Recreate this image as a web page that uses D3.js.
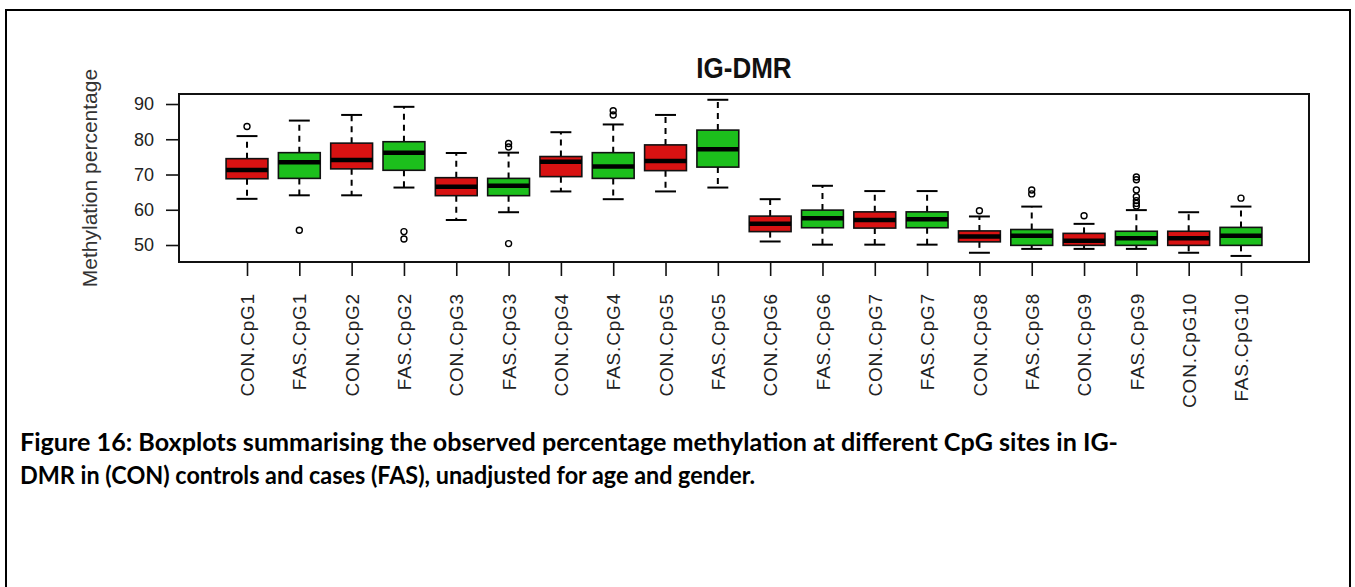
<!DOCTYPE html>
<html>
<head>
<meta charset="utf-8">
<script src="https://cdn.jsdelivr.net/npm/d3@7/dist/d3.min.js"></script>
<style>
  html, body { margin: 0; padding: 0; background: #fff; }
  svg { display: block; }
</style>
</head>
<body>
<script>
// Per-site summary statistics (methylation %), CON = controls, FAS = cases
const groups = [
  "CON.CpG1","FAS.CpG1","CON.CpG2","FAS.CpG2","CON.CpG3","FAS.CpG3","CON.CpG4","FAS.CpG4",
  "CON.CpG5","FAS.CpG5","CON.CpG6","FAS.CpG6","CON.CpG7","FAS.CpG7","CON.CpG8","FAS.CpG8",
  "CON.CpG9","FAS.CpG9","CON.CpG10","FAS.CpG10"
];
const whiskerLow  = [63.1,64.1,64.1,66.3,57.1,59.3,65.2,63.0,65.2,66.3,51.0,50.1,50.1,50.1,47.8,48.9,48.9,48.9,47.8,46.9];
const quartile1   = [68.8,68.9,71.6,71.2,64.0,64.0,69.4,68.9,71.1,72.1,53.8,54.9,54.8,54.9,50.9,49.9,49.9,49.9,49.9,49.9];
const medians     = [71.3,73.5,74.1,76.2,66.5,66.8,73.6,72.3,73.8,77.2,56.0,57.6,57.1,57.3,52.4,52.6,51.2,51.9,51.9,52.6];
const quartile3   = [74.5,76.2,78.9,79.3,69.1,68.9,75.1,76.2,78.4,82.6,58.2,59.9,59.4,59.4,54.0,54.4,53.3,53.9,53.9,55.0];
const whiskerHigh = [80.9,85.3,86.9,89.2,76.1,76.2,82.0,84.2,86.9,91.2,63.0,66.8,65.3,65.3,58.1,60.9,56.0,59.9,59.3,60.9];
const outliers = [
  [83.6], [54.2], [], [53.8,51.7], [], [78.8,77.8,50.4], [], [88.1,86.9], [], [],
  [], [], [], [], [59.7], [65.6,64.5], [58.3], [69.3,68.5,65.6,63.7,62.6,61.8,61.1], [], [63.3]
];
const yTicks = [50, 60, 70, 80, 90];
const titleText = "IG-DMR";
const yLabel = "Methylation percentage";
const captionLines = [
  "Figure 16: Boxplots summarising the observed percentage methylation at different CpG sites in IG-",
  "DMR in (CON) controls and cases (FAS), unadjusted for age and gender."
];
const captionWidths = [1098, 735];

const W = 1355, H = 587;
const plot = { left: 179, right: 1309, top: 94, bottom: 262 };
const RED = "#d81212", GREEN = "#1cbf1c";
const SANS = "Liberation Sans, Arial, sans-serif";

const svg = d3.select("body").append("svg").attr("width", W).attr("height", H);

// outer figure frame (open at the bottom edge of the page)
svg.append("path")
  .attr("d", `M6,${H} V10 H1350 V${H}`)
  .attr("fill", "none").attr("stroke", "#000").attr("stroke-width", 2);

const n = groups.length;
const x = d3.scaleLinear().domain([0.5 - 0.04 * n, n + 0.5 + 0.04 * n]).range([plot.left, plot.right]);
const y = d3.scaleLinear().domain([45.18, 92.84]).range([plot.bottom, plot.top]);
const unit = x(2) - x(1);
const boxW = 0.8 * unit;
const capW = 0.5 * boxW;

const data = groups.map((g, i) => ({
  name: g, pos: i + 1, lo: whiskerLow[i], q1: quartile1[i], med: medians[i],
  q3: quartile3[i], hi: whiskerHigh[i], out: outliers[i],
  fill: g.startsWith("CON") ? RED : GREEN
}));

const gBox = svg.append("g");
const bx = gBox.selectAll("g.box").data(data).join("g").attr("class", "box")
  .attr("transform", d => `translate(${x(d.pos)},0)`);

// dashed whiskers
bx.append("line").attr("x1", 0).attr("x2", 0)
  .attr("y1", d => y(d.q3)).attr("y2", d => y(d.hi))
  .attr("stroke", "#000").attr("stroke-width", 2).attr("stroke-dasharray", "6,5");
bx.append("line").attr("x1", 0).attr("x2", 0)
  .attr("y1", d => y(d.q1)).attr("y2", d => y(d.lo))
  .attr("stroke", "#000").attr("stroke-width", 2).attr("stroke-dasharray", "6,5");
// staples
bx.append("line").attr("x1", -capW / 2).attr("x2", capW / 2)
  .attr("y1", d => y(d.hi)).attr("y2", d => y(d.hi))
  .attr("stroke", "#000").attr("stroke-width", 2);
bx.append("line").attr("x1", -capW / 2).attr("x2", capW / 2)
  .attr("y1", d => y(d.lo)).attr("y2", d => y(d.lo))
  .attr("stroke", "#000").attr("stroke-width", 2);
// boxes
bx.append("rect").attr("x", -boxW / 2).attr("width", boxW)
  .attr("y", d => y(d.q3)).attr("height", d => y(d.q1) - y(d.q3))
  .attr("fill", d => d.fill).attr("stroke", "#111").attr("stroke-width", 1.6);
// medians
bx.append("line").attr("x1", -boxW / 2).attr("x2", boxW / 2)
  .attr("y1", d => y(d.med)).attr("y2", d => y(d.med))
  .attr("stroke", "#000").attr("stroke-width", 4.5);
// outliers
bx.selectAll("circle").data(d => d.out).join("circle")
  .attr("cx", 0).attr("cy", v => y(v)).attr("r", 3)
  .attr("fill", "none").attr("stroke", "#000").attr("stroke-width", 1.4);

// plot frame
svg.append("rect")
  .attr("x", plot.left).attr("y", plot.top)
  .attr("width", plot.right - plot.left).attr("height", plot.bottom - plot.top)
  .attr("fill", "none").attr("stroke", "#111").attr("stroke-width", 2);

// y axis
const yAxis = svg.append("g").attr("transform", `translate(${plot.left},0)`)
  .call(d3.axisLeft(y).tickValues(yTicks).tickSize(13).tickPadding(12).tickFormat(d3.format("d")));
yAxis.select(".domain").remove();
yAxis.selectAll("line").attr("stroke", "#111").attr("stroke-width", 1.6);
yAxis.selectAll("text").attr("font-family", SANS).attr("font-size", 18).attr("fill", "#222");

// x axis with vertical labels
const xAxis = svg.append("g").attr("transform", `translate(0,${plot.bottom})`)
  .call(d3.axisBottom(x).tickValues(d3.range(1, n + 1)).tickSize(14).tickFormat(i => groups[i - 1]));
xAxis.select(".domain").remove();
xAxis.selectAll("line").attr("stroke", "#111").attr("stroke-width", 1.6);
xAxis.selectAll("text")
  .attr("font-family", SANS).attr("font-size", 19).attr("letter-spacing", 0.8).attr("fill", "#222")
  .attr("transform", "rotate(-90)").attr("text-anchor", "end")
  .attr("x", -31).attr("y", 0).attr("dy", "0.35em");

// title
svg.append("text")
  .attr("transform", `translate(${(plot.left + plot.right) / 2},78) scale(1,1.15)`)
  .attr("text-anchor", "middle").attr("font-family", SANS)
  .attr("font-weight", "bold").attr("font-size", 26).attr("fill", "#111").text(titleText);

// y axis title, centred on the plot region
svg.append("text")
  .attr("transform", `translate(97,${(plot.top + plot.bottom) / 2}) rotate(-90)`)
  .attr("text-anchor", "middle").attr("font-family", SANS)
  .attr("font-size", 21).attr("fill", "#333").text(yLabel);

// caption
svg.selectAll("text.caption").data(captionLines).join("text").attr("class", "caption")
  .attr("x", 20).attr("y", (d, i) => 451 + i * 33)
  .attr("font-family", "Lato, 'Open Sans', sans-serif").attr("font-weight", 700)
  .attr("font-size", 24).attr("fill", "#000")
  .attr("textLength", (d, i) => captionWidths[i]).attr("lengthAdjust", "spacingAndGlyphs")
  .text(d => d);
</script>
</body>
</html>
